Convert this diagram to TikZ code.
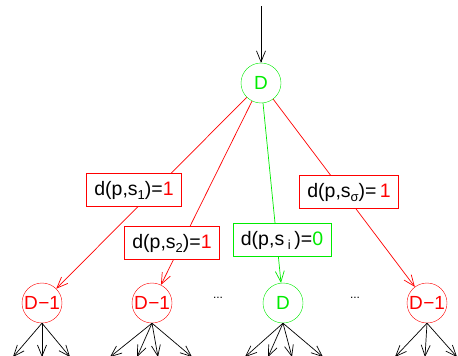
\documentclass[tikz,border=0pt]{standalone}
\usepackage{fontspec}
\setmainfont{Liberation Sans}
\usetikzlibrary{arrows.meta}
\definecolor{fred}{RGB}{255,0,0}
\definecolor{fgreen}{RGB}{0,235,0}
\newcommand{\sbs}[1]{\raisebox{-4pt}{\fontsize{13}{13}\selectfont #1}}
\begin{document}
\begin{tikzpicture}[x=1pt,y=-1pt,
  circ/.style={circle,draw,minimum size=40pt,inner sep=0pt,font=\fontsize{19}{19}\selectfont},
  lab/.style={draw,fill=white,inner xsep=8pt,inner ysep=0pt,minimum height=33pt,font=\fontsize{19.5}{19.5}\selectfont},
  arr/.style={-{Straight Barb[length=11pt,width=9pt]},line width=0.7pt},
  dots/.style={font=\fontsize{12}{12}\selectfont}]
\useasboundingbox (0,0) rectangle (458,356);
\clip (0,0) rectangle (458,356);
% nodes
\coordinate (start) at (261,6);
\node[circ,draw=fgreen,text=fgreen] (top) at (261,83) {D};
\node[circ,draw=fred,text=fred] (b1) at (42,303) {D\kern0.5pt{\char"2212}1};
\node[circ,draw=fred,text=fred] (b2) at (152,303) {D\kern0.5pt{\char"2212}1};
\node[circ,draw=fgreen,text=fgreen] (b3) at (283,303) {D};
\node[circ,draw=fred,text=fred] (b4) at (427,303) {D\kern0.5pt{\char"2212}1};
\node[dots] (d1) at (218,298) {...};
\node[dots] (d2) at (355,298) {...};
% connectors
\draw[arr,black] (start) -- (top);
\draw[arr,fred] (top) -- (b1);
\draw[arr,fred] (top) -- (b2);
\draw[arr,fgreen] (top) -- (b3);
\draw[arr,fred] (top) -- (b4);
% labels
\node[lab,draw=fred,text=black] (l1) at (134,190) {d(p,s\sbs{1})=\textcolor{fred}{1}};
\node[lab,draw=fred,text=black] (l2) at (172,243) {d(p,s\sbs{2})=\textcolor{fred}{1}};
\node[lab,draw=fgreen,text=black] (l3) at (282,240) {d(p,s\sbs{ i })=\textcolor{fgreen}{0}};
\node[lab,draw=fred,text=black] (l4) at (349,192) {d(p,s\sbs{σ})=\,\textcolor{fred}{1}};
% bottom arrows
\coordinate (e11) at (13,357); \coordinate (e12) at (42,357); \coordinate (e13) at (70,357);
\coordinate (e21) at (110,357); \coordinate (e22) at (137,357); \coordinate (e23) at (158,357); \coordinate (e24) at (192,357);
\coordinate (e31) at (245,357); \coordinate (e32) at (268,357); \coordinate (e33) at (292,357); \coordinate (e34) at (323,357);
\coordinate (e41) at (395,357); \coordinate (e42) at (425,357); \coordinate (e43) at (457,357);
\foreach \e in {e11,e12,e13} \draw[arr,black] (b1.south) -- (\e);
\foreach \e in {e21,e22,e23,e24} \draw[arr,black] (b2.south) -- (\e);
\foreach \e in {e31,e32,e33,e34} \draw[arr,black] (b3.south) -- (\e);
\foreach \e in {e41,e42,e43} \draw[arr,black] (b4.south) -- (\e);
\end{tikzpicture}
\end{document}
